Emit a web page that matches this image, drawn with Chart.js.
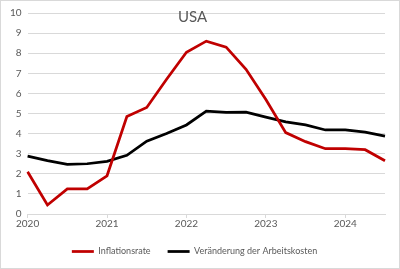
<!DOCTYPE html>
<html>
<head>
<meta charset="utf-8">
<script src="https://cdn.jsdelivr.net/npm/chart.js@4/dist/chart.umd.min.js"></script>
<style>
  html, body { margin: 0; padding: 0; background: #fff; }
  #wrap {
    position: relative;
    width: 400px;
    height: 269px;
    box-sizing: border-box;
    border: 1px solid #d9d9d9;
  }
  #title {
    position: absolute;
    left: 177px;
    top: 6px;
    font-family: Lato, "Open Sans", sans-serif;
    font-size: 15px;
    color: #595959;
  }
</style>
</head>
<body>
<div id="wrap">
  <canvas id="chart"></canvas>
  <div id="title">USA</div>
</div>
<script>
// Quarterly values, USA
const quarters = [
    '2020 Q1', '2020 Q2', '2020 Q3', '2020 Q4',
    '2021 Q1', '2021 Q2', '2021 Q3', '2021 Q4',
    '2022 Q1', '2022 Q2', '2022 Q3', '2022 Q4',
    '2023 Q1', '2023 Q2', '2023 Q3', '2023 Q4',
    '2024 Q1', '2024 Q2', '2024 Q3'
];
const inflation = [2.1, 0.45, 1.25, 1.25, 1.9, 4.85, 5.3, 6.7, 8.05, 8.6, 8.3, 7.2, 5.7, 4.05, 3.6, 3.25, 3.25, 3.2, 2.65];
const labourCost = [2.88, 2.66, 2.47, 2.5, 2.62, 2.92, 3.62, 4.0, 4.43, 5.12, 5.05, 5.07, 4.82, 4.58, 4.43, 4.18, 4.18, 4.07, 3.87];
const seriesNames = ['Inflationsrate', 'Veränderung der Arbeitskosten'];

const textColor = '#595959';
const gridColor = '#d9d9d9';

const ctx = document.getElementById('chart').getContext('2d');
new Chart(ctx, {
    type: 'line',
    data: {
        labels: quarters,
        datasets: [{
            label: seriesNames[0],
            data: inflation,
            borderColor: '#c00000',
            backgroundColor: '#c00000',
            borderWidth: 2.75,
            pointRadius: 0,
            tension: 0
        }, {
            label: seriesNames[1],
            data: labourCost,
            borderColor: '#000000',
            backgroundColor: '#000000',
            borderWidth: 2.75,
            pointRadius: 0,
            tension: 0
        }]
    },
    options: {
        responsive: true,
        maintainAspectRatio: false,
        animation: false,
        layout: {
            padding: { left: 3, right: 14, top: -3, bottom: 2 }
        },
        scales: {
            x: {
                offset: false,
                border: { color: gridColor },
                grid: {
                    drawOnChartArea: false,
                    drawTicks: true,
                    tickLength: 4,
                    // tick marks only at the years
                    color: c => (c.index % 4 === 0 ? gridColor : 'rgba(0,0,0,0)')
                },
                ticks: {
                    autoSkip: false,
                    maxRotation: 0,
                    padding: 0,
                    color: textColor,
                    font: { family: 'Lato', size: 10 },
                    callback: function(value, index) {
                        return index % 4 === 0 ? this.getLabelForValue(value).slice(0, 4) : '';
                    }
                }
            },
            y: {
                min: 0,
                max: 10,
                border: { display: false },
                grid: { color: gridColor, drawTicks: false },
                ticks: {
                    stepSize: 1,
                    padding: 6,
                    color: textColor,
                    font: { family: 'Lato', size: 10 }
                }
            }
        },
        plugins: {
            legend: {
                position: 'bottom',
                labels: {
                    usePointStyle: true,
                    pointStyle: 'line',
                    pointStyleWidth: 22,
                    padding: 17,
                    color: textColor,
                    font: { family: 'Lato', size: 9 }
                }
            },
            tooltip: { enabled: false }
        }
    }
});
</script>
</body>
</html>
